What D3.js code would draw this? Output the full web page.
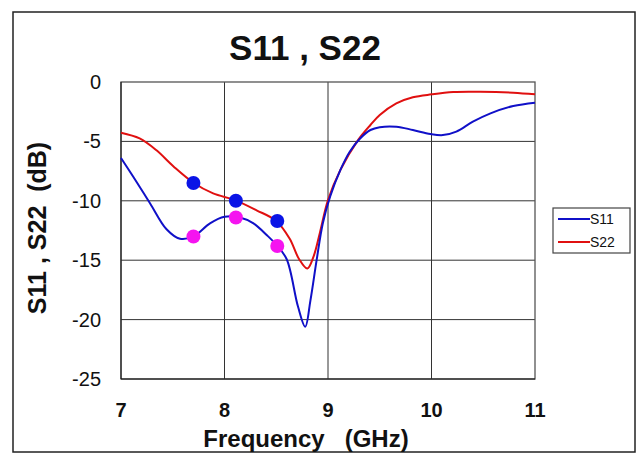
<!DOCTYPE html>
<html><head><meta charset="utf-8">
<script src="https://cdn.jsdelivr.net/npm/d3@7"></script>
<style>body{margin:0;background:#fff}svg{display:block}text{font-family:"Liberation Sans",Arial,sans-serif}</style>
</head><body>
<script>
const xTicks = [7, 8, 9, 10, 11];
const yTicks = [0, -5, -10, -15, -20, -25];
const s11Freq = [7.0, 7.12, 7.28, 7.44, 7.57, 7.70, 7.86, 8.0, 8.15, 8.28, 8.41, 8.50, 8.60, 8.71, 8.78, 8.83, 8.89, 8.95, 9.02, 9.12, 9.21, 9.31, 9.41, 9.50, 9.66, 9.82, 9.99, 10.11, 10.24, 10.40, 10.57, 10.79, 11.0];
const s11Vals = [-6.4, -8.0, -10.2, -12.4, -13.2, -13.0, -11.9, -11.35, -11.4, -11.9, -12.9, -13.7, -14.9, -18.9, -20.6, -18.4, -15.0, -11.9, -9.66, -7.4, -5.87, -4.75, -4.04, -3.8, -3.76, -4.04, -4.38, -4.47, -4.18, -3.34, -2.64, -2.02, -1.74];
const s22Freq = [7.0, 7.18, 7.34, 7.51, 7.70, 7.89, 8.10, 8.31, 8.50, 8.63, 8.72, 8.80, 8.86, 8.92, 9.0, 9.12, 9.29, 9.41, 9.50, 9.66, 9.82, 10.0, 10.21, 10.47, 10.79, 11.0];
const s22Vals = [-4.27, -4.75, -5.73, -7.13, -8.48, -9.38, -9.94, -10.8, -11.7, -13.2, -14.9, -15.7, -14.7, -12.75, -9.94, -7.4, -4.89, -3.62, -2.78, -1.8, -1.29, -1.04, -0.84, -0.82, -0.9, -1.04];
const blueDotF = [7.70, 8.11, 8.51];
const blueDotV = [-8.5, -10.0, -11.7];
const pinkDotF = [7.70, 8.11, 8.51];
const pinkDotV = [-13.0, -11.4, -13.8];
const seriesNames = ["S11", "S22"];

const W = 640, H = 455;
const svg = d3.select("body").append("svg").attr("width", W).attr("height", H);
svg.append("rect").attr("x", 13).attr("y", 12).attr("width", 622).attr("height", 440)
  .attr("fill", "#fff").attr("stroke", "#222").attr("stroke-width", 1.5);

const x = d3.scaleLinear().domain([7, 11]).range([121, 535]);
const y = d3.scaleLinear().domain([-25, 0]).range([379, 82]);

// grid
const g = svg.append("g");
g.selectAll(".vg").data(xTicks.slice(1, -1)).enter().append("line")
  .attr("x1", d => x(d)).attr("x2", d => x(d)).attr("y1", y(0)).attr("y2", y(-25))
  .attr("stroke", "#333").attr("stroke-width", 1);
g.selectAll(".hg").data(yTicks.slice(1, -1)).enter().append("line")
  .attr("y1", d => y(d)).attr("y2", d => y(d)).attr("x1", x(7)).attr("x2", x(11))
  .attr("stroke", "#333").attr("stroke-width", 1);
g.append("rect").attr("x", x(7)).attr("y", y(0)).attr("width", x(11) - x(7)).attr("height", y(-25) - y(0))
  .attr("fill", "none").attr("stroke", "#555").attr("stroke-width", 1.3);
g.append("line").attr("x1", x(7)).attr("x2", x(7)).attr("y1", y(0)).attr("y2", y(-25)).attr("stroke", "#111");
g.append("line").attr("x1", x(7)).attr("x2", x(11)).attr("y1", y(-25)).attr("y2", y(-25)).attr("stroke", "#111");

// tick labels
svg.selectAll(".yl").data(yTicks).enter().append("text")
  .attr("x", 101).attr("y", d => y(d) + 7).attr("text-anchor", "end")
  .attr("font-size", 20).attr("fill", "#111").text(d => d);
svg.selectAll(".xl").data(xTicks).enter().append("text")
  .attr("x", d => x(d)).attr("y", 417).attr("text-anchor", "middle")
  .attr("font-size", 20).attr("font-weight", "bold").attr("fill", "#111").text(d => d);

// titles
svg.append("text").attr("x", 305).attr("y", 60).attr("text-anchor", "middle")
  .attr("font-size", 35).attr("font-weight", "bold").attr("fill", "#111").text("S11 , S22");
svg.append("text").attr("x", 306).attr("y", 447).attr("text-anchor", "middle")
  .attr("font-size", 24).attr("font-weight", "bold").attr("fill", "#111")
  .style("white-space", "pre").text("Frequency   (GHz)");
svg.append("text").attr("transform", "translate(46,228) rotate(-90)").attr("text-anchor", "middle")
  .attr("font-size", 25).attr("font-weight", "bold").attr("fill", "#111")
  .style("white-space", "pre").text("S11 , S22  (dB)");

// lines
const line = d3.line().x(d => x(d[0])).y(d => y(d[1])).curve(d3.curveCatmullRom.alpha(0.5));
const s11 = s11Freq.map((f, i) => [f, s11Vals[i]]);
const s22 = s22Freq.map((f, i) => [f, s22Vals[i]]);
svg.append("path").attr("d", line(s22)).attr("fill", "none").attr("stroke", "#e01010").attr("stroke-width", 2);
svg.append("path").attr("d", line(s11)).attr("fill", "none").attr("stroke", "#1010c8").attr("stroke-width", 2);

// markers
svg.selectAll(".bd").data(blueDotF.map((f, i) => [f, blueDotV[i]])).enter().append("circle")
  .attr("cx", d => x(d[0])).attr("cy", d => y(d[1])).attr("r", 7).attr("fill", "#0a14e6");
svg.selectAll(".pd").data(pinkDotF.map((f, i) => [f, pinkDotV[i]])).enter().append("circle")
  .attr("cx", d => x(d[0])).attr("cy", d => y(d[1])).attr("r", 7).attr("fill", "#f514f0");

// legend
const lg = svg.append("g");
lg.append("rect").attr("x", 553).attr("y", 208).attr("width", 77).attr("height", 45)
  .attr("fill", "#fff").attr("stroke", "#444").attr("stroke-width", 1.2);
const legColors = ["#1010c8", "#e01010"];
seriesNames.forEach((n, i) => {
  const ly = 219 + i * 23;
  lg.append("line").attr("x1", 558).attr("x2", 590).attr("y1", ly).attr("y2", ly)
    .attr("stroke", legColors[i]).attr("stroke-width", 2);
  lg.append("text").attr("x", 590).attr("y", ly + 5).attr("font-size", 14).attr("fill", "#111").text(n);
});
</script>
</body></html>
